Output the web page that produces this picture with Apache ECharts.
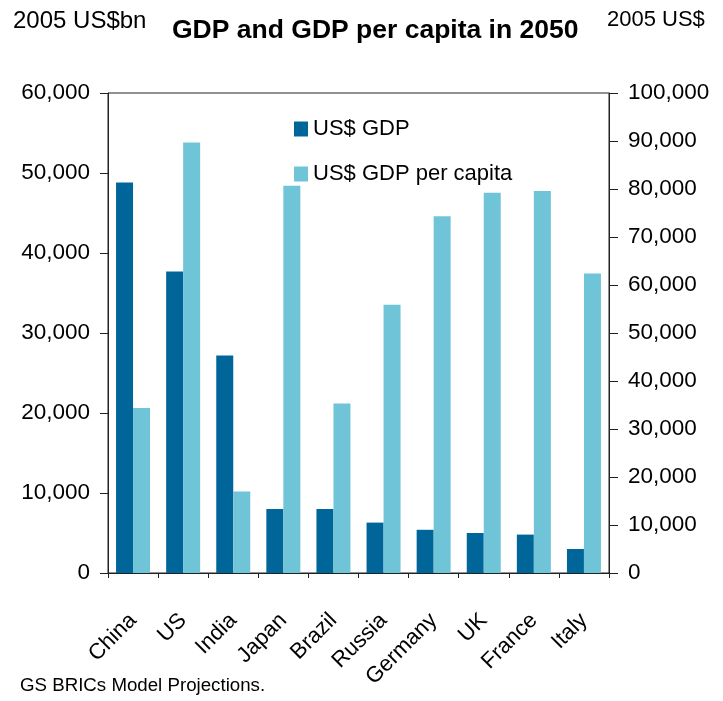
<!DOCTYPE html>
<html>
<head>
<meta charset="utf-8">
<script src="https://cdn.jsdelivr.net/npm/echarts@6/dist/echarts.min.js"></script>
<style>
  html, body { margin: 0; padding: 0; background: #fff; }
  #chart { width: 723px; height: 701px; }
</style>
</head>
<body>
<div id="chart"></div>
<script>
// Countries along the category axis
const categories = ['China', 'US', 'India', 'Japan', 'Brazil', 'Russia', 'Germany', 'UK', 'France', 'Italy'];
// GDP in 2050, 2005 US$bn (left axis)
const gdp = [48800, 37700, 27200, 8000, 8000, 6300, 5400, 5000, 4800, 3000];
// GDP per capita in 2050, 2005 US$ (right axis)
const gdpPerCapita = [34400, 89700, 17000, 80700, 35300, 55900, 74300, 79200, 79600, 62400];
// Axis ranges
const leftTicks = { min: 0, max: 60000, interval: 10000 };
const rightTicks = { min: 0, max: 100000, interval: 10000 };

const SANS = '"Liberation Sans", Arial, sans-serif';
const DARK = '#006699';
const LIGHT = '#70C4D7';
const AXIS = '#222';

const fmt = v => Number(v).toLocaleString('en-US');

const chart = echarts.init(document.getElementById('chart'), null, { renderer: 'canvas' });

chart.setOption({
  animation: false,
  backgroundColor: '#fff',
  title: [
    { text: 'GDP and GDP per capita in 2050', left: 172, top: 17, padding: 0,
      textStyle: { fontFamily: SANS, fontWeight: 'bold', fontSize: 26.5, color: '#000' } },
    { text: '2005 US$bn', left: 13, top: 9, padding: 0,
      textStyle: { fontFamily: SANS, fontWeight: 'normal', fontSize: 24, color: '#000' } },
    { text: '2005 US$', left: 607, top: 9, padding: 0,
      textStyle: { fontFamily: SANS, fontWeight: 'normal', fontSize: 22, color: '#000' } },
    { text: 'GS BRICs Model Projections.', left: 20, top: 676, padding: 0,
      textStyle: { fontFamily: SANS, fontWeight: 'normal', fontSize: 18.7, color: '#000' } }
  ],
  legend: [
    { data: ['US$ GDP'], orient: 'vertical', left: 294, top: 118, padding: 0,
      icon: 'rect', itemWidth: 14, itemHeight: 15, itemGap: 7,
      textStyle: { fontFamily: SANS, fontSize: 22, color: '#000', lineHeight: 15 } },
    { data: ['US$ GDP per capita'], orient: 'vertical', left: 294, top: 163, padding: 0,
      icon: 'rect', itemWidth: 14, itemHeight: 15, itemGap: 7,
      textStyle: { fontFamily: SANS, fontSize: 22, color: '#000', lineHeight: 15 } }
  ],
  grid: {
    left: 108, right: 114, top: 93, bottom: 128,
    show: true, borderColor: AXIS, borderWidth: 1, containLabel: false
  },
  xAxis: {
    type: 'category',
    data: categories,
    axisLine: { lineStyle: { color: AXIS, width: 1 } },
    axisTick: { show: true, length: 5, alignWithLabel: false, lineStyle: { color: AXIS } },
    axisLabel: {
      rotate: 45, margin: 44, interval: 0,
      fontFamily: SANS, fontSize: 22, color: '#000'
    }
  },
  yAxis: [
    {
      type: 'value', position: 'left',
      min: leftTicks.min, max: leftTicks.max, interval: leftTicks.interval,
      splitLine: { show: false },
      axisLine: { show: true, lineStyle: { color: AXIS, width: 1 } },
      axisTick: { show: true, length: 8, lineStyle: { color: AXIS } },
      axisLabel: { margin: 18, formatter: fmt, fontFamily: SANS, fontSize: 22.5, color: '#000' }
    },
    {
      type: 'value', position: 'right',
      min: rightTicks.min, max: rightTicks.max, interval: rightTicks.interval,
      splitLine: { show: false },
      axisLine: { show: true, lineStyle: { color: AXIS, width: 1 } },
      axisTick: { show: true, length: 9, lineStyle: { color: AXIS } },
      axisLabel: { margin: 19, formatter: fmt, fontFamily: SANS, fontSize: 22.5, color: '#000' }
    }
  ],
  series: [
    {
      name: 'US$ GDP', type: 'bar', yAxisIndex: 0,
      data: gdp, barWidth: 17, barGap: '0%',
      itemStyle: { color: DARK }
    },
    {
      name: 'US$ GDP per capita', type: 'bar', yAxisIndex: 1,
      data: gdpPerCapita, barWidth: 17, barGap: '0%',
      itemStyle: { color: LIGHT }
    }
  ]
});
</script>
</body>
</html>
